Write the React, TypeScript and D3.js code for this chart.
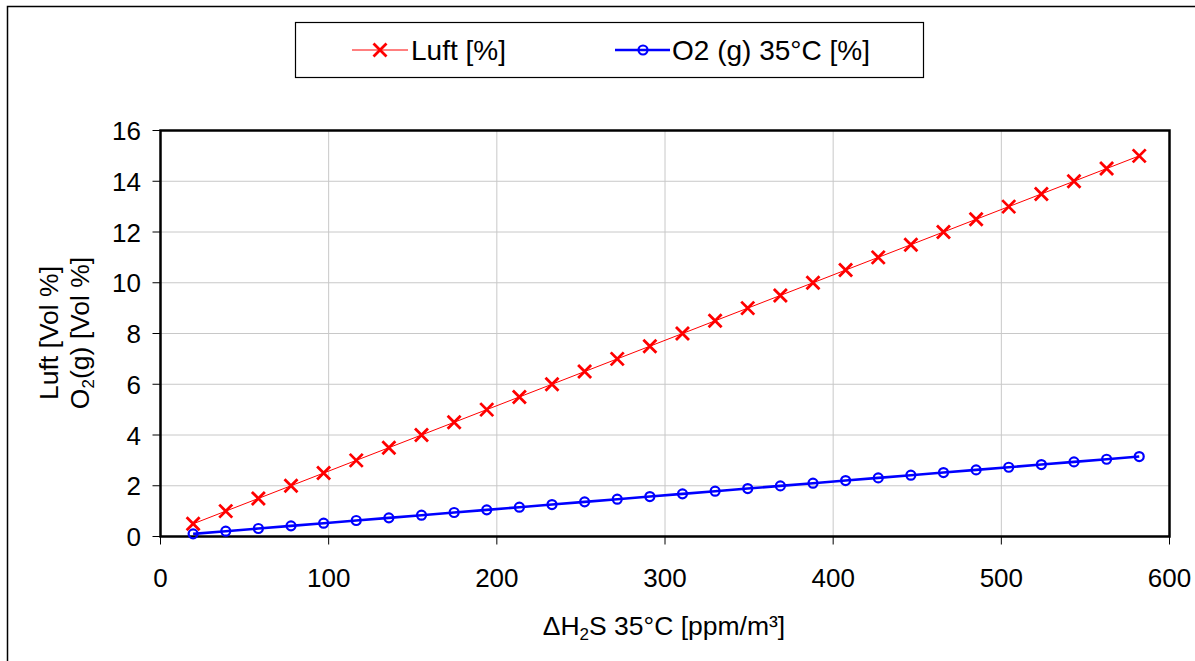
import React from "react";
import * as d3 from "d3";

const h2sValues = [19.4, 38.8, 58.2, 77.6, 97, 116.4, 135.8, 155.2, 174.6, 194, 213.4, 232.8, 252.2, 271.6, 291, 310.4, 329.8, 349.2, 368.6, 388, 407.4, 426.8, 446.2, 465.6, 485, 504.4, 523.8, 543.2, 562.6, 582];
const luftValues = [0.5, 1, 1.5, 2, 2.5, 3, 3.5, 4, 4.5, 5, 5.5, 6, 6.5, 7, 7.5, 8, 8.5, 9, 9.5, 10, 10.5, 11, 11.5, 12, 12.5, 13, 13.5, 14, 14.5, 15];
const o2Values = [0.105, 0.21, 0.315, 0.42, 0.525, 0.63, 0.735, 0.84, 0.945, 1.05, 1.155, 1.26, 1.365, 1.47, 1.575, 1.68, 1.785, 1.89, 1.995, 2.1, 2.205, 2.31, 2.415, 2.52, 2.625, 2.73, 2.835, 2.94, 3.045, 3.15];
const xTicks = [0, 100, 200, 300, 400, 500, 600];
const yTicks = [0, 2, 4, 6, 8, 10, 12, 14, 16];
const seriesNames = ["Luft [%]", "O2 (g) 35°C [%]"];

const W = 1195;
const H = 661;
const FONT = "'Liberation Sans', Arial, sans-serif";

export default function App() {
  const x = d3.scaleLinear().domain([0, 600]).range([160.5, 1169.5]);
  const y = d3.scaleLinear().domain([0, 16]).range([536.5, 130.5]);

  const luftPts: [number, number][] = h2sValues.map((v, i) => [x(v), y(luftValues[i])]);
  const o2Pts: [number, number][] = h2sValues.map((v, i) => [x(v), y(o2Values[i])]);
  const line = d3.line();

  const cross = (cx: number, cy: number, k: string) => (
    <path
      key={k}
      d={`M${cx - 6.5},${cy - 6.5}L${cx + 6.5},${cy + 6.5}M${cx - 6.5},${cy + 6.5}L${cx + 6.5},${cy - 6.5}`}
      stroke="#ff0000"
      strokeWidth={2.8}
      fill="none"
    />
  );
  const circ = (cx: number, cy: number, k: string) => (
    <circle key={k} cx={cx} cy={cy} r={4.5} fill="none" stroke="#0000ff" strokeWidth={2.2} />
  );

  const [x0, x1] = x.range();
  const [y0, y1] = y.range();

  return (
    <svg
      width={W}
      height={H}
      style={{ position: "absolute", left: 0, top: 0, background: "#fff" }}
      fontFamily={FONT}
    >
      <rect x={0} y={0} width={W} height={H} fill="#fff" />
      {/* outer frame */}
      <path d={`M7.5,${H}V6.5H${W}`} stroke="#000" strokeWidth={1.5} fill="none" />

      {/* grid */}
      {xTicks.slice(1, -1).map((t) => (
        <line key={"gx" + t} x1={x(t)} x2={x(t)} y1={y1} y2={y0} stroke="#c8c8c8" strokeWidth={1} />
      ))}
      {yTicks.slice(1, -1).map((t) => (
        <line key={"gy" + t} x1={x0} x2={x1} y1={y(t)} y2={y(t)} stroke="#c8c8c8" strokeWidth={1} />
      ))}

      {/* ticks */}
      {xTicks.map((t) => (
        <line key={"tx" + t} x1={x(t)} x2={x(t)} y1={y0} y2={y0 + 8} stroke="#000" strokeWidth={1} />
      ))}
      {yTicks.map((t) => (
        <line key={"ty" + t} x1={x0 - 8} x2={x0} y1={y(t)} y2={y(t)} stroke="#000" strokeWidth={1} />
      ))}

      {/* plot border */}
      <rect x={x0} y={y1} width={x1 - x0} height={y0 - y1} fill="none" stroke="#000" strokeWidth={2.5} />

      {/* tick labels */}
      {xTicks.map((t) => (
        <text key={"lx" + t} x={x(t)} y={587} textAnchor="middle" fontSize={26} fill="#000">
          {t}
        </text>
      ))}
      {yTicks.map((t) => (
        <text key={"ly" + t} x={141} y={y(t) + 9.5} textAnchor="end" fontSize={26} fill="#000">
          {t}
        </text>
      ))}

      {/* series */}
      <path d={line(luftPts) || ""} stroke="#ff0000" strokeWidth={1} fill="none" />
      {luftPts.map((p, i) => cross(p[0], p[1], "c" + i))}
      <path d={line(o2Pts) || ""} stroke="#0000ff" strokeWidth={2.6} fill="none" />
      {o2Pts.map((p, i) => circ(p[0], p[1], "o" + i))}

      {/* axis titles */}
      <text x={664} y={635} textAnchor="middle" fontSize={26.5} fill="#000">
        ΔH<tspan fontSize={17} dy={5}>2</tspan>
        <tspan dy={-5}>S 35°C [ppm/m³]</tspan>
      </text>
      <g transform="translate(58,333) rotate(-90)">
        <text x={0} y={0} textAnchor="middle" fontSize={26.5} fill="#000">
          Luft [Vol %]
        </text>
      </g>
      <g transform="translate(89,333) rotate(-90)">
        <text x={0} y={0} textAnchor="middle" fontSize={26.5} fill="#000">
          O<tspan fontSize={17} dy={5}>2</tspan>
          <tspan dy={-5}>(g) [Vol %]</tspan>
        </text>
      </g>

      {/* legend */}
      <rect x={295.5} y={22.5} width={628} height={55} fill="#fff" stroke="#000" strokeWidth={1.2} />
      <line x1={352} x2={408} y1={50} y2={50} stroke="#ff0000" strokeWidth={1} />
      {cross(380, 50, "lc")}
      <text x={411} y={60} fontSize={28} fill="#000">
        {seriesNames[0]}
      </text>
      <line x1={615} x2={670} y1={50} y2={50} stroke="#0000ff" strokeWidth={2.6} />
      {circ(643, 50, "lo")}
      <text x={672} y={60} fontSize={28} fill="#000">
        {seriesNames[1]}
      </text>
    </svg>
  );
}
